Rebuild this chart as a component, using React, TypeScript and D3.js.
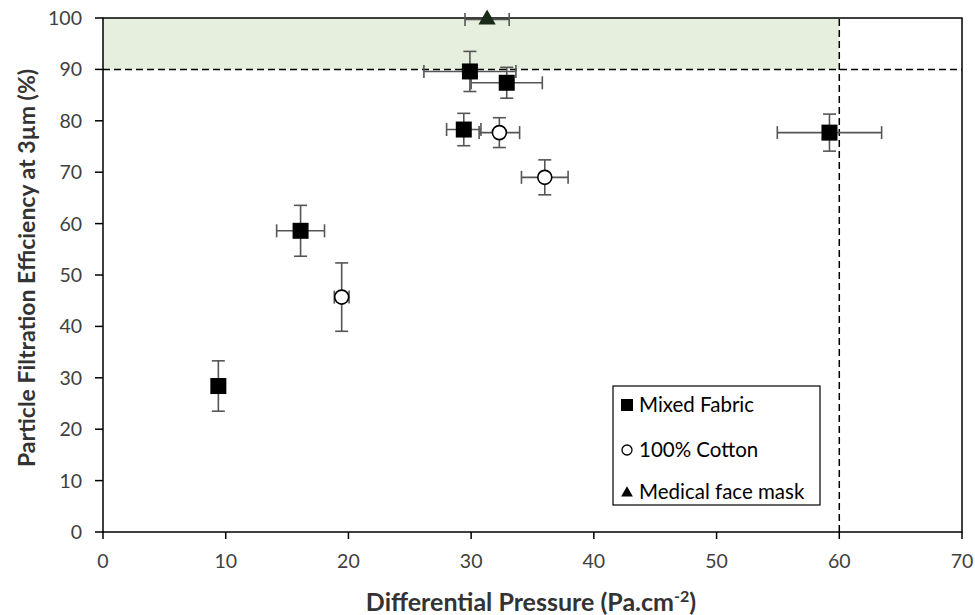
import * as d3 from "d3";

// Mixed fabric samples
const mixedX = [9.4, 16.1, 29.9, 32.9, 29.4, 59.2];
const mixedY = [28.4, 58.6, 89.6, 87.4, 78.3, 77.7];
const mixedXErr = [0, 1.95, 3.75, 2.9, 1.4, 4.25];
const mixedYErr = [4.9, 4.95, 3.9, 3.0, 3.15, 3.6];

// 100% cotton samples
const cottonX = [19.45, 32.3, 36.0];
const cottonY = [45.7, 77.7, 69.0];
const cottonXErr = [0.6, 1.65, 1.9];
const cottonYErr = [6.65, 2.9, 3.4];

// medical face mask
const maskX = [31.3];
const maskY = [99.7];
const maskXErr = [1.8];
const maskYErr = [0];

const xTicks = [0, 10, 20, 30, 40, 50, 60, 70];
const yTicks = [0, 10, 20, 30, 40, 50, 60, 70, 80, 90, 100];
const legendLabels = ["Mixed Fabric", "100% Cotton", "Medical face mask"];

const W = 975;
const H = 615;
const margin = { top: 18, right: 13, bottom: 83, left: 103 };
const FONT = "Lato, 'Open Sans', sans-serif";

type Pt = { x: number; y: number; ex: number; ey: number };
const zip = (xs: number[], ys: number[], exs: number[], eys: number[]): Pt[] =>
  xs.map((x, i) => ({ x, y: ys[i], ex: exs[i], ey: eys[i] }));

export default function App() {
  const x = d3.scaleLinear().domain([0, 70]).range([margin.left, W - margin.right]);
  const y = d3.scaleLinear().domain([0, 100]).range([H - margin.bottom, margin.top]);

  const mixed = zip(mixedX, mixedY, mixedXErr, mixedYErr);
  const cotton = zip(cottonX, cottonY, cottonXErr, cottonYErr);
  const mask = zip(maskX, maskY, maskXErr, maskYErr);

  const cap = 6.5;
  const errColor = "#555";
  const errBars = (d: Pt, i: number, key: string) => (
    <g key={`${key}${i}`} stroke={errColor} strokeWidth={1.6}>
      {d.ey > 0 && (
        <>
          <line x1={x(d.x)} x2={x(d.x)} y1={y(d.y - d.ey)} y2={y(d.y + d.ey)} />
          <line x1={x(d.x) - cap} x2={x(d.x) + cap} y1={y(d.y - d.ey)} y2={y(d.y - d.ey)} />
          <line x1={x(d.x) - cap} x2={x(d.x) + cap} y1={y(d.y + d.ey)} y2={y(d.y + d.ey)} />
        </>
      )}
      {d.ex > 0 && (
        <>
          <line x1={x(d.x - d.ex)} x2={x(d.x + d.ex)} y1={y(d.y)} y2={y(d.y)} />
          <line x1={x(d.x - d.ex)} x2={x(d.x - d.ex)} y1={y(d.y) - cap} y2={y(d.y) + cap} />
          <line x1={x(d.x + d.ex)} x2={x(d.x + d.ex)} y1={y(d.y) - cap} y2={y(d.y) + cap} />
        </>
      )}
    </g>
  );

  const tri = d3.symbol(d3.symbolTriangle, 130)();
  const x0 = margin.left;
  const x1 = W - margin.right;
  const y0 = H - margin.bottom;
  const y1 = margin.top;

  const legend = { x: 613, y: 386, w: 207, h: 119 };
  const legendRows = [405, 450, 492];

  return (
    <svg width={W} height={H} style={{ position: "absolute", left: 0, top: 0, background: "#fff" }}>
      {/* target zone */}
      <rect x={x(0)} y={y(100)} width={x(60) - x(0)} height={y(90) - y(100)} fill="#e6efdd" />
      <line x1={x0} x2={x1} y1={y(90)} y2={y(90)} stroke="#000" strokeWidth={1.5} strokeDasharray="7,4" />
      <line x1={x(60)} x2={x(60)} y1={y0} y2={y1} stroke="#000" strokeWidth={1.5} strokeDasharray="7,4" />

      {/* frame */}
      <rect x={x0} y={y1} width={x1 - x0} height={y0 - y1} fill="none" stroke="#000" strokeWidth={1.5} />

      {/* ticks */}
      {xTicks.map((t) => (
        <g key={`xt${t}`}>
          <line x1={x(t)} x2={x(t)} y1={y0} y2={y0 + 7} stroke="#000" strokeWidth={1.5} />
          <text x={x(t)} y={y0 + 36} textAnchor="middle" fontSize={19.5} fill="#404040" fontFamily={FONT}>
            {t}
          </text>
        </g>
      ))}
      {yTicks.map((t) => (
        <g key={`yt${t}`}>
          <line x1={x0 - 8} x2={x0} y1={y(t)} y2={y(t)} stroke="#000" strokeWidth={1.5} />
          <text x={82} y={y(t)} dy="0.36em" textAnchor="end" fontSize={19.5} fill="#404040" fontFamily={FONT}>
            {t}
          </text>
        </g>
      ))}

      {/* axis titles */}
      <text x={531} y={611} textAnchor="middle" fontSize={25} fontWeight="bold" fill="#333" fontFamily={FONT}>
        Differential Pressure (Pa.cm<tspan dy={-9} fontSize={16}>-2</tspan><tspan dy={9}>)</tspan>
      </text>
      <text
        transform={`translate(35,268) rotate(-90)`}
        textAnchor="middle"
        fontSize={23}
        fontWeight="bold"
        fill="#333"
        fontFamily={FONT}
      >
        Particle Filtration Efficiency at 3µm (%)
      </text>

      {/* error bars */}
      {mixed.map((d, i) => errBars(d, i, "me"))}
      {cotton.map((d, i) => errBars(d, i, "ce"))}
      {mask.map((d, i) => errBars(d, i, "ke"))}

      {/* markers */}
      {mixed.map((d, i) => (
        <rect key={`m${i}`} x={x(d.x) - 8} y={y(d.y) - 8} width={16} height={16} fill="#000" />
      ))}
      {cotton.map((d, i) => (
        <circle key={`c${i}`} cx={x(d.x)} cy={y(d.y)} r={7} fill="#fff" stroke="#000" strokeWidth={1.6} />
      ))}
      {mask.map((d, i) => (
        <path key={`k${i}`} d={tri ?? ""} transform={`translate(${x(d.x)},${y(d.y)})`} fill="#1a2a1a" />
      ))}

      {/* legend */}
      <rect x={legend.x} y={legend.y} width={legend.w} height={legend.h} fill="#fff" stroke="#000" strokeWidth={1.2} />
      <rect x={621} y={legendRows[0] - 6} width={12} height={12} fill="#000" />
      <circle cx={627} cy={legendRows[1]} r={5} fill="#fff" stroke="#000" strokeWidth={1.3} />
      <path d={d3.symbol(d3.symbolTriangle, 60)() ?? ""} transform={`translate(627,${legendRows[2] + 1})`} fill="#000" />
      {legendLabels.map((l, i) => (
        <text key={l} x={639} y={legendRows[i]} dy="0.36em" fontSize={20.5} fill="#000" fontFamily={FONT}>
          {l}
        </text>
      ))}
    </svg>
  );
}
